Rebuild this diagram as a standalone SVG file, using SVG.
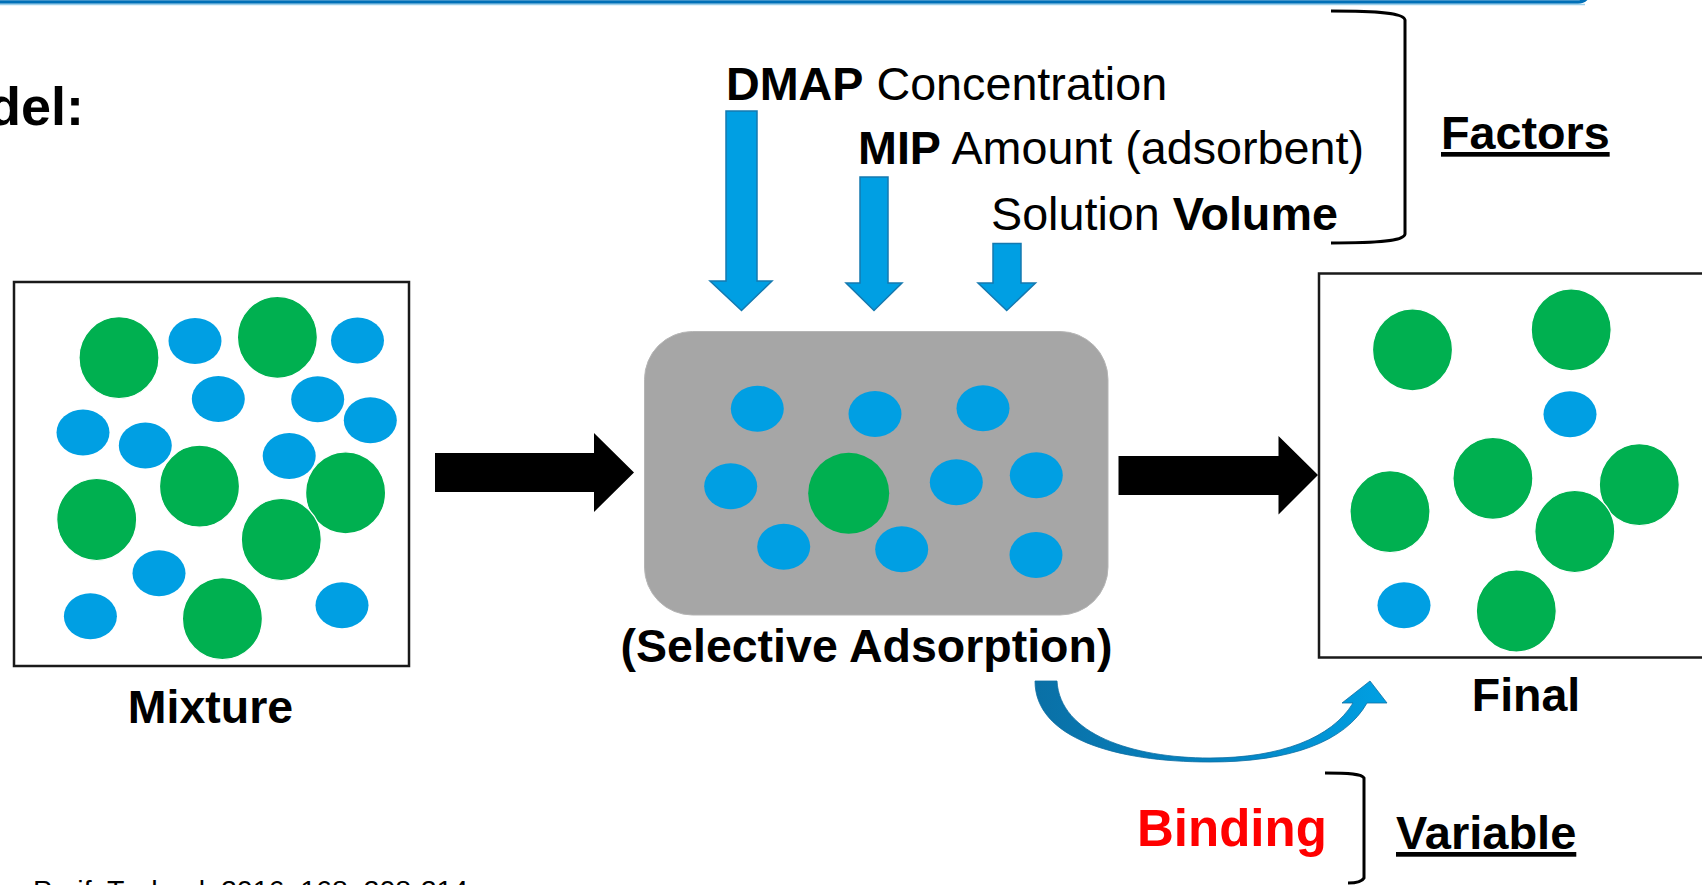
<svg xmlns="http://www.w3.org/2000/svg" width="1702" height="885" viewBox="0 0 1702 885">
  <defs>
    <style>
      text { font-family: "Liberation Sans", Arial, sans-serif; fill: #000; }
      .b { font-weight: bold; }
      .g { fill: #00B050; stroke: #fff; stroke-width: 1.2; }
      .bl { fill: #009FE3; }
      .box { fill: #fff; stroke: #1a1a1a; stroke-width: 2.5; }
      .varrow { fill: #009FE3; stroke: #1479B0; stroke-width: 1.5; stroke-linejoin: miter; }
      .bracket { fill: none; stroke: #000; stroke-width: 3; }
    </style>
    <linearGradient id="curveGrad" x1="0" y1="0" x2="1" y2="0">
      <stop offset="0" stop-color="#0A70A6"/>
      <stop offset="0.6" stop-color="#0487C6"/>
      <stop offset="1" stop-color="#00A0E3"/>
    </linearGradient>
  </defs>

  <rect width="1702" height="885" fill="#fff"/>

  <!-- top banner edge -->
  <g id="banner">
    <rect x="-30" y="-80" width="1620" height="82" rx="12" fill="#fff" stroke="#0070B8" stroke-width="3.5"/>
    <line x1="0" y1="4.5" x2="1585" y2="4.5" stroke="#9CCFEA" stroke-width="1.5"/>
  </g>

  <g id="title">
    <text class="b" x="84" y="125" font-size="54" text-anchor="end">del:</text>
  </g>

  <!-- factors -->
  <g id="factor-dmap">
    <text x="726" y="100" font-size="46.7"><tspan class="b">DMAP</tspan> Concentration</text>
  </g>
  <g id="factor-mip">
    <text x="858" y="164" font-size="46.7"><tspan class="b">MIP</tspan> Amount (adsorbent)</text>
  </g>
  <g id="factor-volume">
    <text x="991" y="230" font-size="46.7">Solution <tspan class="b">Volume</tspan></text>
  </g>
  <g id="factors-label">
    <path class="bracket" d="M1331,11 C1380,11 1404,13 1405,20 L1405,234 C1404,241 1380,243 1331,243"/>
    <text class="b" x="1441" y="149" font-size="46.7" text-decoration="underline">Factors</text>
  </g>

  <!-- mixture -->
  <g id="mixture">
    <rect class="box" x="14" y="282" width="395" height="384"/>
    <ellipse class="bl" cx="195" cy="341" rx="26.5" ry="23"/>
    <ellipse class="bl" cx="357.5" cy="340.5" rx="26.5" ry="23"/>
    <ellipse class="bl" cx="218.3" cy="399" rx="26.5" ry="23"/>
    <ellipse class="bl" cx="317.7" cy="399.3" rx="26.5" ry="23"/>
    <ellipse class="bl" cx="370.3" cy="420.2" rx="26.5" ry="23"/>
    <ellipse class="bl" cx="83" cy="432.5" rx="26.5" ry="23"/>
    <ellipse class="bl" cx="145.3" cy="445.5" rx="26.5" ry="23"/>
    <ellipse class="bl" cx="289.2" cy="456" rx="26.5" ry="23"/>
    <ellipse class="bl" cx="159" cy="573.2" rx="26.5" ry="23"/>
    <ellipse class="bl" cx="90.4" cy="616.2" rx="26.5" ry="23"/>
    <ellipse class="bl" cx="342" cy="605.2" rx="26.5" ry="23"/>
    <ellipse class="g" cx="119" cy="357.7" rx="40" ry="41"/>
    <ellipse class="g" cx="277.4" cy="337.3" rx="40" ry="41"/>
    <ellipse class="g" cx="199.5" cy="486.2" rx="40" ry="41"/>
    <ellipse class="g" cx="96.7" cy="519.5" rx="40" ry="41"/>
    <ellipse class="g" cx="345.6" cy="492.8" rx="40" ry="41"/>
    <ellipse class="g" cx="281.3" cy="539.5" rx="40" ry="41"/>
    <ellipse class="g" cx="222.4" cy="618.7" rx="40" ry="41"/>
    <text class="b" x="210.5" y="723" font-size="46.5" text-anchor="middle">Mixture</text>
  </g>

  <!-- adsorption -->
  <g id="adsorption">
    <rect x="644.5" y="331.5" width="463.5" height="283.5" rx="48" fill="#A6A6A6" stroke="#B5B5B5" stroke-width="1"/>
    <ellipse class="bl" cx="757.3" cy="408.7" rx="26.5" ry="23"/>
    <ellipse class="bl" cx="875" cy="414" rx="26.5" ry="23"/>
    <ellipse class="bl" cx="983" cy="408.3" rx="26.5" ry="23"/>
    <ellipse class="bl" cx="730.7" cy="486.3" rx="26.5" ry="23"/>
    <ellipse class="bl" cx="956.3" cy="482.3" rx="26.5" ry="23"/>
    <ellipse class="bl" cx="1036.3" cy="475.3" rx="26.5" ry="23"/>
    <ellipse class="bl" cx="783.7" cy="546.7" rx="26.5" ry="23"/>
    <ellipse class="bl" cx="901.7" cy="549.3" rx="26.5" ry="23"/>
    <ellipse class="bl" cx="1036" cy="555" rx="26.5" ry="23"/>
    <circle cx="848.7" cy="493.3" r="40.5" fill="#00B050"/>
    <text class="b" x="866.5" y="662" font-size="46.5" text-anchor="middle">(Selective Adsorption)</text>
  </g>

  <!-- final -->
  <g id="final">
    <rect class="box" x="1319" y="273.5" width="420" height="384"/>
    <ellipse class="bl" cx="1570" cy="414.2" rx="26.5" ry="23"/>
    <ellipse class="bl" cx="1404" cy="605.2" rx="26.5" ry="23"/>
    <ellipse class="g" cx="1412.5" cy="349.8" rx="40" ry="41"/>
    <ellipse class="g" cx="1571.2" cy="329.8" rx="40" ry="41"/>
    <ellipse class="g" cx="1492.9" cy="478.3" rx="40" ry="41"/>
    <ellipse class="g" cx="1390" cy="511.7" rx="40" ry="41"/>
    <ellipse class="g" cx="1639.3" cy="484.7" rx="40" ry="41"/>
    <ellipse class="g" cx="1574.8" cy="531.5" rx="40" ry="41"/>
    <ellipse class="g" cx="1516.3" cy="611" rx="40" ry="41"/>
    <text class="b" x="1526" y="711" font-size="46.5" text-anchor="middle">Final</text>
  </g>

  <!-- variable -->
  <g id="variable">
    <text class="b" x="1137" y="846" font-size="51" style="fill:#FF0000">Binding</text>
    <path class="bracket" d="M1325,773 C1350,773 1362,774 1364,778 L1364,878 C1362,882 1355,883 1348,883"/>
    <text class="b" x="1396" y="849" font-size="47" text-decoration="underline">Variable</text>
  </g>

  <g id="citation">
    <text x="33" y="900" font-size="28.5">Purif. Technol. 2016, 168, 208-214</text>
  </g>

  <!-- connectors -->
  <g id="connectors">
    <polygon class="varrow" points="726,111 757,111 757,281 772,281 741.5,310.5 710,281 726,281"/>
    <polygon class="varrow" points="860,177 888,177 888,283 902,283 874,310.5 846,283 860,283"/>
    <polygon class="varrow" points="993,243.5 1021,243.5 1021,283 1035.5,283 1006.7,310.5 978,283 993,283"/>
    <polygon fill="#000" points="435,453 594,453 594,433 634,472.5 594,512 594,492 435,492"/>
    <polygon fill="#000" points="1118.5,456 1278.5,456 1278.5,436 1318,475 1278.5,514.5 1278.5,495 1118.5,495"/>
    <path fill="url(#curveGrad)" stroke="#0E6EA3" stroke-width="0.8" d="M1035,681 C1035,738 1115,762 1210,762 C1290,762 1345,742 1367,703 L1387,703 L1370,681 L1342,703 L1353,703 C1332,738 1280,758 1210,758 C1132,758 1060,734 1057,681 Z"/>
  </g>
</svg>
